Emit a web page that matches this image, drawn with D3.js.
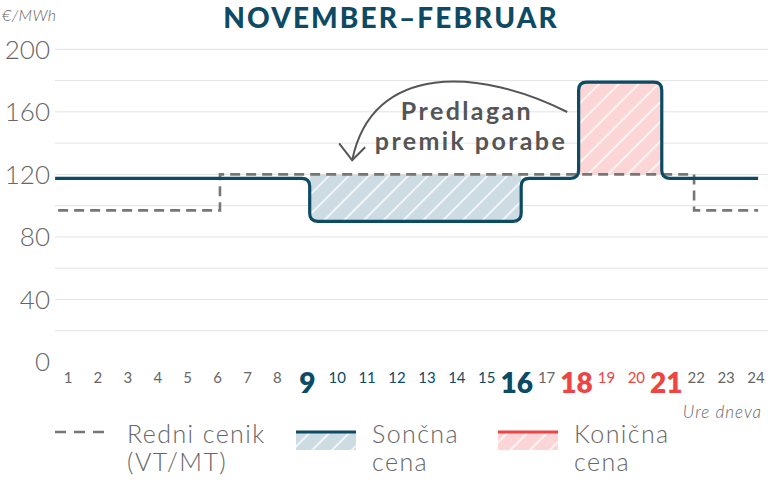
<!DOCTYPE html>
<html>
<head>
<meta charset="utf-8">
<script src="https://cdn.jsdelivr.net/npm/d3@7"></script>
<style>
  body { margin: 0; background: #fff; }
  svg { display: block; font-family: Lato, "Open Sans", sans-serif; }
</style>
</head>
<body>
<div id="container"></div>
<script>
const W = 768, H = 486;

// data
const hours = d3.range(1, 25);
const yTicks = [0, 40, 80, 120, 160, 200];
const gridValues = d3.range(20, 201, 20);
const bigHours = [9, 16, 18, 21];
const solarHours = [9, 10, 11, 12, 13, 14, 15, 16];
const peakHours = [18, 19, 20, 21];

// step series: breakpoints (hour) and level between them (EUR/MWh)
const regularBreaks = [0.67, 6.08, 21.93, 24.07];
const regularValues = [97, 120, 97];
const solarBreaks = [0.57, 9.08, 16.15, 18.07, 20.85, 24.07];
const solarValues = [117.5, 90, 117.5, 179, 117.5];
const regularPeak = 120;

const tealC = "#0d4a64", redC = "#ee4444", grayC = "#666";

const x = d3.scaleLinear().domain([1, 24]).range([68, 756]);
const y = d3.scaleLinear().domain([0, 200]).range([362, 49.3]);

const svg = d3.select("#container").append("svg")
    .attr("width", W).attr("height", H)
    .attr("viewBox", `0 0 ${W} ${H}`);

const defs = svg.append("defs");
function hatch(id, fill) {
    const p = defs.append("pattern")
        .attr("id", id)
        .attr("patternUnits", "userSpaceOnUse")
        .attr("width", 14).attr("height", 14)
        .attr("patternTransform", "rotate(45)");
    p.append("rect").attr("width", 14).attr("height", 14).attr("fill", fill);
    p.append("line").attr("x1", 7).attr("x2", 7).attr("y1", 0).attr("y2", 14)
        .attr("stroke", "#fff").attr("stroke-width", 1.6).attr("stroke-opacity", 0.9);
}
hatch("hatchBlue", "#cddbe3");
hatch("hatchRed", "#fcd6d6");

// rounded corner path through pixel points
function roundedPath(pts, r, closed) {
    const p = d3.path();
    p.moveTo(pts[0][0], pts[0][1]);
    for (let i = 1; i < pts.length - 1; i++) {
        const [x0, y0] = pts[i - 1], [x1, y1] = pts[i], [x2, y2] = pts[i + 1];
        const d1 = Math.hypot(x1 - x0, y1 - y0), d2 = Math.hypot(x2 - x1, y2 - y1);
        const rr = Math.min(r, d1 / 2, d2 / 2);
        if (rr < 0.5) { p.lineTo(x1, y1); continue; }
        p.lineTo(x1 - (x1 - x0) / d1 * rr, y1 - (y1 - y0) / d1 * rr);
        p.quadraticCurveTo(x1, y1, x1 + (x2 - x1) / d2 * rr, y1 + (y2 - y1) / d2 * rr);
    }
    const last = pts[pts.length - 1];
    p.lineTo(last[0], last[1]);
    if (closed) p.closePath();
    return p.toString();
}
function stepPoints(breaks, values) {
    const pts = [];
    values.forEach((v, i) => {
        pts.push([x(breaks[i]), y(v)]);
        pts.push([x(breaks[i + 1]), y(v)]);
    });
    return pts;
}

// gridlines
svg.append("g").selectAll("line")
    .data(gridValues)
    .join("line")
    .attr("x1", 55).attr("x2", W)
    .attr("y1", d => y(d)).attr("y2", d => y(d))
    .attr("stroke", "#e3e3e3").attr("stroke-width", 1);

// y labels
svg.append("g").selectAll("text")
    .data(yTicks)
    .join("text")
    .attr("x", 50).attr("y", d => y(d))
    .attr("dy", "0.36em")
    .attr("text-anchor", "end")
    .attr("font-size", 26).attr("font-weight", 300)
    .attr("fill", grayC)
    .text(d => d);

svg.append("text")
    .attr("x", 2).attr("y", 21)
    .attr("font-size", 16).attr("font-style", "italic").attr("font-weight", 300)
    .attr("letter-spacing", 0.4)
    .attr("fill", grayC)
    .text("€/MWh");

svg.append("text")
    .attr("x", 391).attr("y", 28)
    .attr("text-anchor", "middle")
    .attr("font-size", 28).attr("font-weight", 900)
    .attr("letter-spacing", 2.1)
    .attr("fill", tealC)
    .text("NOVEMBER–FEBRUAR");

// shaded areas
const sA = solarBreaks[1], sB = solarBreaks[2];
svg.append("path")
    .attr("d", roundedPath([[x(sA), y(regularPeak)], [x(sA), y(solarValues[1])],
        [x(sB), y(solarValues[1])], [x(sB), y(regularPeak)]], 8, true))
    .attr("fill", "url(#hatchBlue)");
const pA = solarBreaks[3], pB = solarBreaks[4];
svg.append("path")
    .attr("d", roundedPath([[x(pA), y(regularPeak)], [x(pA), y(solarValues[3])],
        [x(pB), y(solarValues[3])], [x(pB), y(regularPeak)]], 8, true))
    .attr("fill", "url(#hatchRed)");

// regular tariff (dashed)
svg.append("path")
    .attr("d", roundedPath(stepPoints(regularBreaks, regularValues), 0, false))
    .attr("fill", "none")
    .attr("stroke", "#777").attr("stroke-width", 2.6)
    .attr("stroke-dasharray", "10,6");

// solar price line
svg.append("path")
    .attr("d", roundedPath(stepPoints(solarBreaks, solarValues), 8, false))
    .attr("fill", "none")
    .attr("stroke", tealC).attr("stroke-width", 3.2)
    .attr("stroke-linejoin", "round");

// annotation
const ann = svg.append("g").attr("fill", "#555").attr("font-weight", 700)
    .attr("font-size", 25).attr("letter-spacing", 2.4).attr("text-anchor", "middle");
ann.append("text").attr("x", 467).attr("y", 119.5).text("Predlagan");
ann.append("text").attr("x", 471).attr("y", 149.5).text("premik porabe");

const arrowStart = [17.69, 159.9], c1 = [14.79, 188], c2 = [11.17, 192], tip = [10.5, 129];
const ap = d3.path();
ap.moveTo(x(arrowStart[0]), y(arrowStart[1]));
ap.bezierCurveTo(x(c1[0]), y(c1[1]), x(c2[0]), y(c2[1]), x(tip[0]), y(tip[1]));
svg.append("path").attr("d", ap.toString())
    .attr("fill", "none").attr("stroke", "#555").attr("stroke-width", 2);
svg.append("path")
    .attr("d", `M${x(tip[0]) - 13},${y(tip[1]) - 17}L${x(tip[0])},${y(tip[1])}L${x(tip[0]) + 13},${y(tip[1]) - 13}`)
    .attr("fill", "none").attr("stroke", "#555").attr("stroke-width", 2);

// x labels
function labelColor(h) {
    if (peakHours.includes(h)) return redC;
    if (solarHours.includes(h)) return tealC;
    return grayC;
}
svg.append("g").selectAll("text")
    .data(hours)
    .join("text")
    .attr("x", d => x(d))
    .attr("y", d => bigHours.includes(d) ? 393 : 383)
    .attr("text-anchor", "middle")
    .attr("font-size", d => bigHours.includes(d) ? 28 : 15)
    .attr("font-weight", d => bigHours.includes(d) ? 800 : 400)
    .attr("fill", labelColor)
    .text(d => d);

svg.append("text")
    .attr("x", 762).attr("y", 418)
    .attr("text-anchor", "end")
    .attr("font-size", 17).attr("font-style", "italic").attr("font-weight", 300)
    .attr("letter-spacing", 1)
    .attr("fill", grayC)
    .text("Ure dneva");

// legend
const lg = svg.append("g").attr("font-size", 25).attr("font-weight", 300)
    .attr("letter-spacing", 1.4).attr("fill", grayC);
lg.append("line").attr("x1", 55).attr("x2", 110).attr("y1", 432).attr("y2", 432)
    .attr("stroke", "#777").attr("stroke-width", 2.6).attr("stroke-dasharray", "11,8");
lg.append("text").attr("x", 127).attr("y", 443).text("Redni cenik");
lg.append("text").attr("x", 127).attr("y", 471).text("(VT/MT)");

lg.append("rect").attr("x", 296).attr("y", 432).attr("width", 60).attr("height", 18)
    .attr("fill", "url(#hatchBlue)");
lg.append("line").attr("x1", 296).attr("x2", 356).attr("y1", 432).attr("y2", 432)
    .attr("stroke", tealC).attr("stroke-width", 3.2);
lg.append("text").attr("x", 372).attr("y", 443).text("Sončna");
lg.append("text").attr("x", 372).attr("y", 471).text("cena");

lg.append("rect").attr("x", 498).attr("y", 432).attr("width", 60).attr("height", 18)
    .attr("fill", "url(#hatchRed)");
lg.append("line").attr("x1", 498).attr("x2", 558).attr("y1", 432).attr("y2", 432)
    .attr("stroke", redC).attr("stroke-width", 3.2);
lg.append("text").attr("x", 574).attr("y", 443).text("Konična");
lg.append("text").attr("x", 574).attr("y", 471).text("cena");
</script>
</body>
</html>
